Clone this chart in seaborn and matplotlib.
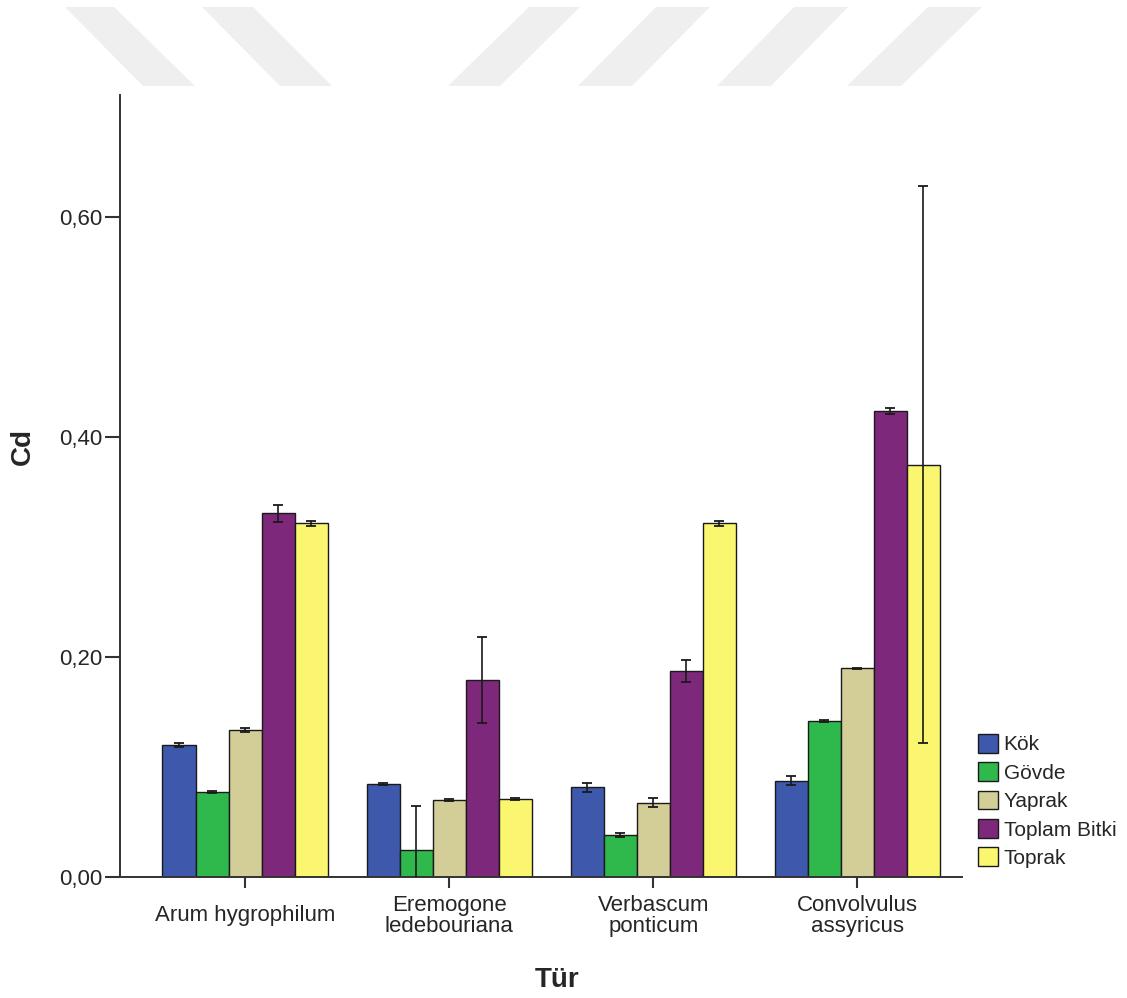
import numpy as np
import pandas as pd
import matplotlib
matplotlib.use("Agg")
import matplotlib.pyplot as plt
from matplotlib.patches import Polygon
import seaborn as sns

# Data (means and error half-widths)
species = ["Arum hygrophilum", "Eremogone\nledebouriana", "Verbascum\nponticum", "Convolvulus\nassyricus"]
parts = ["Kök", "Gövde", "Yaprak", "Toplam Bitki", "Toprak"]

kok = [0.120, 0.0845, 0.0815, 0.0876]
govde = [0.077, 0.0245, 0.038, 0.142]
yaprak = [0.1336, 0.070, 0.0676, 0.190]
toplam = [0.3306, 0.179, 0.1876, 0.4236]
toprak = [0.3215, 0.0706, 0.3215, 0.375]

kok_err = [0.002, 0.001, 0.004, 0.004]
govde_err = [0.001, 0.040, 0.002, 0.001]
yaprak_err = [0.002, 0.001, 0.004, 0.0005]
toplam_err = [0.0075, 0.039, 0.010, 0.003]
toprak_err = [0.002, 0.001, 0.002, 0.253]

colors = ["#3e58ac", "#2fb84b", "#d3ce97", "#7d287b", "#fbf66f"]

means = [kok, govde, yaprak, toplam, toprak]
errs = [kok_err, govde_err, yaprak_err, toplam_err, toprak_err]

rows = []
for p, vals in zip(parts, means):
    for s, v in zip(species, vals):
        rows.append({"Tür": s, "Parça": p, "Cd": v})
df = pd.DataFrame(rows)

sns.set_style("white")
plt.rcParams["font.family"] = ["Liberation Sans", "DejaVu Sans"]

fig = plt.figure(figsize=(11.27, 9.98), dpi=100)
ax = fig.add_axes([0.1065, 0.1212, 0.7475, 0.7836])

# faint watermark stripes at the top
stripes = [
    [(65, 7), (114, 7), (195, 86), (143, 86)],
    [(202, 7), (253, 7), (332, 86), (280, 86)],
    [(529, 7), (580, 7), (500, 86), (448, 86)],
    [(656, 7), (710, 7), (632, 86), (578, 86)],
    [(794, 7), (848, 7), (771, 86), (717, 86)],
    [(928, 7), (982, 7), (901, 86), (847, 86)],
]
for pts in stripes:
    poly = [(x / 1127, 1 - y / 998) for x, y in pts]
    fig.patches.append(Polygon(poly, closed=True, transform=fig.transFigure,
                               facecolor="#efefef", edgecolor="none", zorder=0))

sns.barplot(data=df, x="Tür", y="Cd", hue="Parça", order=species, hue_order=parts,
            palette=colors, width=0.81, errorbar=None, edgecolor="#1a1a1a",
            linewidth=1.0, saturation=1, ax=ax)

for cont, e in zip(ax.containers, errs):
    xs = [b.get_x() + b.get_width() / 2 for b in cont]
    hs = [b.get_height() for b in cont]
    ax.errorbar(xs, hs, yerr=e, fmt="none", ecolor="#1a1a1a", elinewidth=1.2,
                capsize=3.5, capthick=1.3, zorder=5)

ax.set_ylim(0, 0.711)
ax.set_xlim(-0.613, 3.515)
ax.set_yticks([0, 0.2, 0.4, 0.6])
ax.set_yticklabels(["0,00", "0,20", "0,40", "0,60"], fontsize=16)
ax.tick_params(axis="x", labelsize=16, length=8, width=1.5, color="#333333",
               direction="out", bottom=True, pad=20)
ax.tick_params(axis="y", length=11, width=1.5, color="#333333", direction="out",
               left=True, pad=1.5)
for lab in ax.get_xticklabels():
    lab.set_linespacing(1.05)
    lab.set_verticalalignment("center")

sns.despine(ax=ax)
for sp in ["left", "bottom"]:
    ax.spines[sp].set_color("#333333")
    ax.spines[sp].set_linewidth(1.4)

ax.set_ylabel("Cd", fontsize=20, fontweight="bold")
ax.set_xlabel("Tür", fontsize=20, fontweight="bold")
ax.yaxis.set_label_coords(-0.0995, 0.55)
ax.xaxis.set_label_coords(0.519, -0.115)

handles, labels = ax.get_legend_handles_labels()
ax.get_legend().remove()
fig.legend(handles, labels, loc="lower left", bbox_to_anchor=(0.860, 0.122),
           frameon=False, fontsize=15, handlelength=1.0, handleheight=1.0,
           handletextpad=0.25, labelspacing=0.38, borderaxespad=0)

fig.savefig("out.png", dpi=100)
